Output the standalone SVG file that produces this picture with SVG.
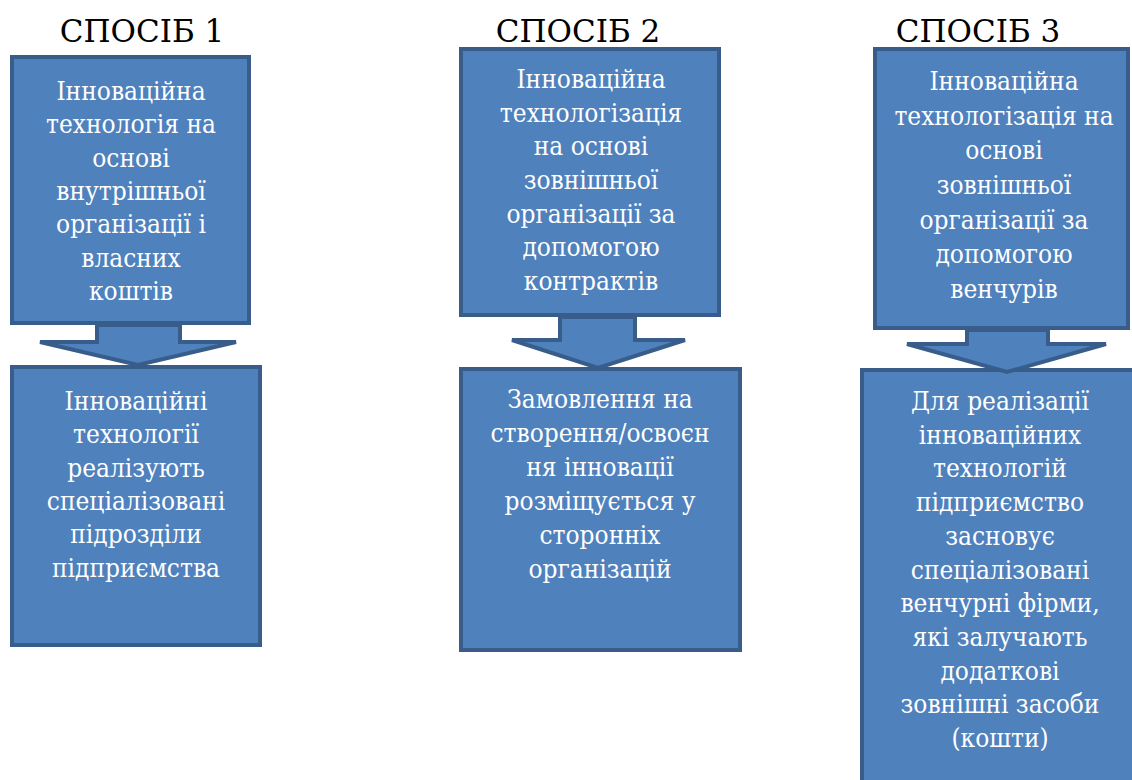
<svg xmlns="http://www.w3.org/2000/svg" width="1132" height="780" viewBox="0 0 1132 780">
<style>
.box{fill:#4F81BD;stroke:#385D8A;stroke-width:4}
.arr{fill:#4F81BD;stroke:#385D8A;stroke-width:4;stroke-linejoin:miter}
.title{font-size:31px;fill:#000;text-anchor:middle}
.t{font-size:26px;fill:#fff;text-anchor:middle;font-stretch:condensed}
</style>
<rect width="1132" height="780" fill="#fff"/>
<g font-family="'DejaVu Serif', 'Liberation Serif', serif">
<g id="titles">
<text class="title" x="142" y="42">СПОСІБ 1</text>
<text class="title" x="578" y="42">СПОСІБ 2</text>
<text class="title" x="978" y="42">СПОСІБ 3</text>
</g>
<g id="n1">
<rect class="box" x="12" y="57" width="237" height="266"/>
<text class="t"><tspan x="131" y="100">Інноваційна</tspan><tspan x="131" y="133">технологія на</tspan><tspan x="131" y="167">основі</tspan><tspan x="131" y="200">внутрішньої</tspan><tspan x="131" y="233">організації і</tspan><tspan x="131" y="267">власних</tspan><tspan x="131" y="300">коштів</tspan></text>
</g>
<g id="n2">
<rect class="box" x="12" y="367" width="248" height="278"/>
<text class="t"><tspan x="136" y="410">Інноваційні</tspan><tspan x="136" y="443">технології</tspan><tspan x="136" y="477">реалізують</tspan><tspan x="136" y="510">спеціалізовані</tspan><tspan x="136" y="543">підрозділи</tspan><tspan x="136" y="577">підприємства</tspan></text>
</g>
<g id="n3">
<rect class="box" x="461" y="49" width="258" height="266"/>
<text class="t"><tspan x="591" y="88">Інноваційна</tspan><tspan x="591" y="122">технологізація</tspan><tspan x="591" y="155">на основі</tspan><tspan x="591" y="189">зовнішньої</tspan><tspan x="591" y="223">організації за</tspan><tspan x="591" y="256">допомогою</tspan><tspan x="591" y="290">контрактів</tspan></text>
</g>
<g id="n4">
<rect class="box" x="461" y="369" width="279" height="281"/>
<text class="t"><tspan x="600" y="408">Замовлення на</tspan><tspan x="600" y="442">створення/освоєн</tspan><tspan x="600" y="476">ня інновації</tspan><tspan x="600" y="510">розміщується у</tspan><tspan x="600" y="544">сторонніх</tspan><tspan x="600" y="578">організацій</tspan></text>
</g>
<g id="n5">
<rect class="box" x="875" y="49" width="253" height="279"/>
<text class="t"><tspan x="1004" y="90">Інноваційна</tspan><tspan x="1004" y="125">технологізація на</tspan><tspan x="1004" y="159">основі</tspan><tspan x="1004" y="194">зовнішньої</tspan><tspan x="1004" y="229">організації за</tspan><tspan x="1004" y="263">допомогою</tspan><tspan x="1004" y="298">венчурів</tspan></text>
</g>
<g id="n6">
<rect class="box" x="862" y="370" width="290" height="430"/>
<text class="t"><tspan x="1000" y="410">Для реалізації</tspan><tspan x="1000" y="444">інноваційних</tspan><tspan x="1000" y="477">технологій</tspan><tspan x="1000" y="511">підприємство</tspan><tspan x="1000" y="545">засновує</tspan><tspan x="1000" y="579">спеціалізовані</tspan><tspan x="1000" y="612">венчурні фірми,</tspan><tspan x="1000" y="646">які залучають</tspan><tspan x="1000" y="680">додаткові</tspan><tspan x="1000" y="713">зовнішні засоби</tspan><tspan x="1000" y="747">(кошти)</tspan></text>
</g>
</g>
<g id="connectors">
<polygon class="arr" points="97,325 180,325 180,342 236,342 138,365 40,342 97,342"/>
<polygon class="arr" points="560,317 635,317 635,340 685,340 598,368 512,340 560,340"/>
<polygon class="arr" points="967,330 1048,330 1048,344 1106,344 1007,372 907,344 967,344"/>
</g>
</svg>
